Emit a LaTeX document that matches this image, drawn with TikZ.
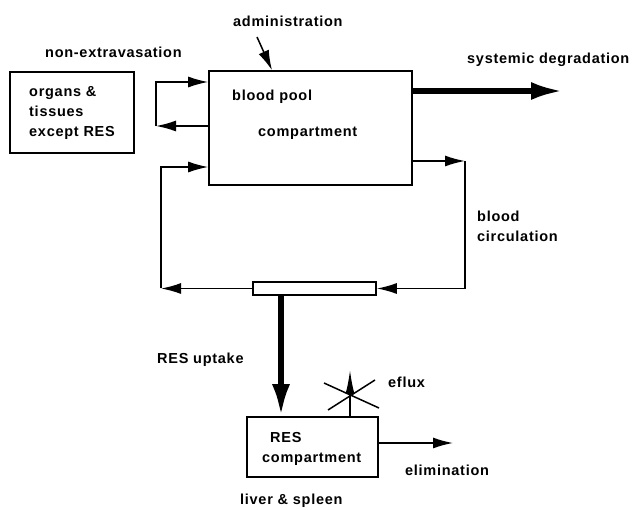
\documentclass[tikz,border=0pt]{standalone}
\usepackage{fontspec}
\setmainfont[LetterSpace=5]{Liberation Sans}
\usetikzlibrary{arrows.meta}

\begin{document}
\begin{tikzpicture}[x=1pt,y=-1pt,
    every node/.style={font=\fontsize{14.5}{20}\selectfont\bfseries},
    txt/.style={anchor=base west,inner sep=0pt},
    box/.style={draw,line width=1.6pt,inner sep=0pt},
    thinarr/.style={line width=1.5pt,-{Latex[length=20pt,width=11pt]}},
    thickarr/.style={line width=5.5pt,-{Latex[length=32pt,width=18pt]}},
    effarr/.style={line width=1.5pt,-{Latex[length=24pt,width=9pt]}}]
    \useasboundingbox (0,0) rectangle (635,510);

    \node[box,minimum width=124pt,minimum height=81pt,align=left] at (72,112.5) (Org) {organs \&\\tissues\\except RES};
    \node[box,minimum width=203pt,minimum height=114pt] at (310.5,128) (Pool) {};
    \node[box,minimum width=123pt,minimum height=13pt] at (314.5,288.5) (Bar) {};
    \node[box,minimum width=131pt,minimum height=60pt] at (312.5,447) (Res) {};

    \node[txt] at (45,58) (nonExt) {non-extravasation};
    \node[txt] at (233,27) (admin) {administration};
    \node[txt] at (467,64) (sysDeg) {systemic degradation};
    \node[txt] at (232,101) (PoolA) {blood pool};
    \node[txt] at (258,137) (PoolB) {compartment};
    \node[txt,align=left] at (477,242) (circ) {blood\\circulation};
    \node[txt] at (157,364) (uptake) {RES uptake};
    \node[txt] at (388,388) (eflux) {eflux};
    \node[txt] at (270,443) (ResA) {RES};
    \node[txt] at (262,463) (ResB) {compartment};
    \node[txt] at (405,476) (elim) {elimination};
    \node[txt] at (240,505) (liver) {liver \& spleen};

    \coordinate (admStart) at (257,37);
    \coordinate (sysEnd) at (563,91);
    \coordinate (loopA) at (156,126);
    \coordinate (loopB) at (156,82);
    \coordinate (circR) at (465,161);
    \coordinate (circRB) at (465,288.5);
    \coordinate (circL) at (161,288.5);
    \coordinate (circLT) at (161,167);
    \coordinate (uptakeTop) at (281,295);
    \coordinate (effTop) at (350,370);
    \coordinate (elimEnd) at (453,443);

    \draw[thinarr] (admStart) -- ([xshift=-38.5pt]Pool.north);
    \draw[thickarr] (Pool.east |- sysEnd) -- (sysEnd);
    \draw[thinarr] (Pool.west |- loopA) -- (loopA);
    \draw[thinarr] (loopA) -- (loopB) -- (Pool.west |- loopB);
    \draw[thinarr] (Pool.east |- circR) -- (circR);
    \draw[thinarr] (circR) -- (circRB) -- (Bar.east);
    \draw[thinarr] (Bar.west) -- (circL);
    \draw[thinarr] (circL) -- (circLT) -- (Pool.west |- circLT);
    \draw[thickarr] (uptakeTop) -- (uptakeTop |- Res.north);
    \draw[effarr] (Res.north -| effTop) -- (effTop);
    \draw[line width=1.5pt] (324,383) -- (379,408);
    \draw[line width=1.5pt] (328,410) -- (375,380);
    \draw[thinarr] (Res.east |- elimEnd) -- (elimEnd);
  \end{tikzpicture}
\end{document}
